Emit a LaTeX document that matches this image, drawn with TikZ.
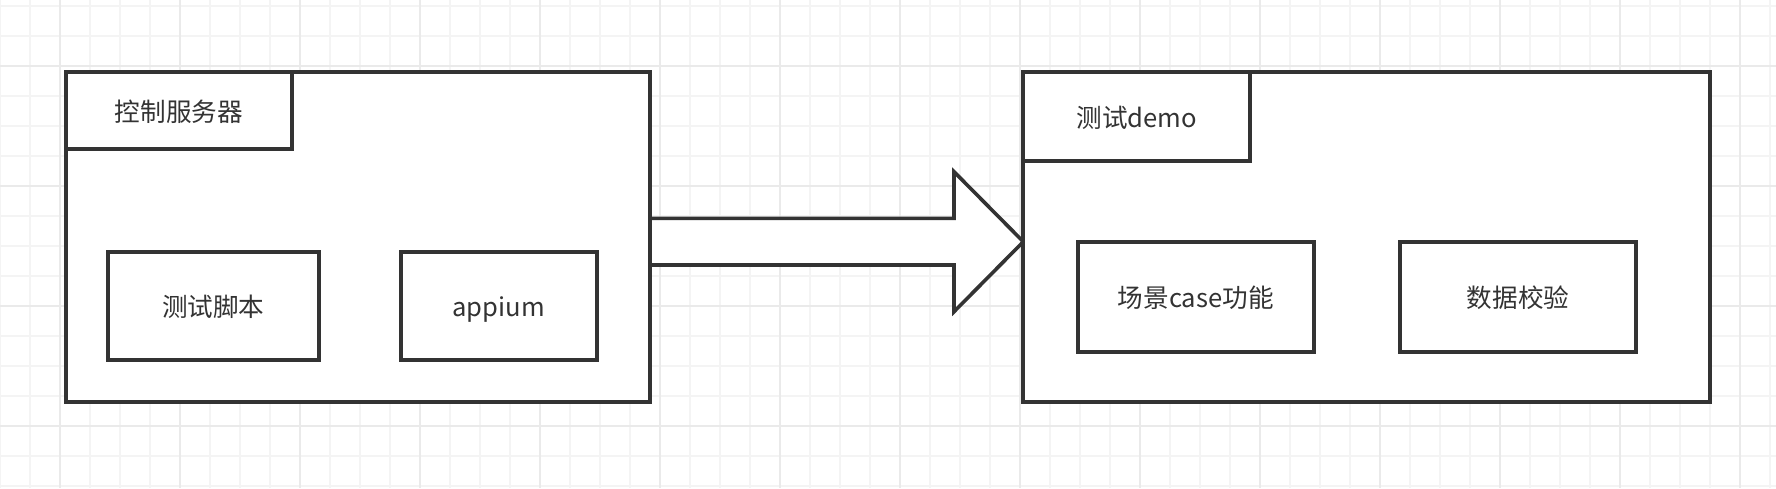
\documentclass[tikz,border=0pt]{standalone}
\usepackage{fontspec}
\setmainfont{Noto Sans CJK SC}
\begin{document}
\begin{tikzpicture}[x=1pt,y=-1pt,
  every node/.style={inner sep=0pt,outer sep=0pt},
  box/.style={draw=ink,line width=4pt,fill=white,rectangle,text=ink,
    font=\fontsize{25.6}{30}\selectfont,text height=24pt,text depth=3pt},
  minorgrid/.style={draw=gridminor,line width=2pt},
  majorgrid/.style={draw=gridmajor,line width=2pt},
  blockarrow/.style={draw=ink,line width=3.6pt,fill=white,line join=miter}]
\definecolor{ink}{HTML}{333333}
\definecolor{gridminor}{HTML}{F4F4F4}
\definecolor{gridmajor}{HTML}{EAEAEA}
\useasboundingbox[fill=white] (0,0) rectangle (1776,488);
% grid
\foreach \k in {0,...,59} {
  \draw[minorgrid] ({-0.5+30*\k},0) -- ({-0.5+30*\k},488);
}
\foreach \k in {0,...,16} {
  \draw[minorgrid] (0,{6+30*\k}) -- (1776,{6+30*\k});
}
\foreach \k in {0,...,14} {
  \draw[majorgrid] ({59.5+120*\k},0) -- ({59.5+120*\k},488);
}
\foreach \k in {0,...,3} {
  \draw[majorgrid] (0,{66+120*\k}) -- (1776,{66+120*\k});
}
% block arrow
\coordinate (tip) at (1023.3,241.7);
\draw[blockarrow] (650,218.3) -- (954,218.3) -- (954,171.7) -- (tip)
  -- (954,311.7) -- (954,265) -- (650,265) -- cycle;
% left group
\node[box,minimum width=584.3pt,minimum height=329.8pt] (lout) at (357.85,236.6) {};
\node[box,minimum width=226.3pt,minimum height=77.6pt] (ltab) at (178.85,110.5) {控制服务器};
\node[box,minimum width=211.5pt,minimum height=108.3pt] (script) at (213.25,305.85) {测试脚本};
\node[box,minimum width=195.8pt,minimum height=108.3pt] (appium) at (498.7,305.85) {appium};
% right group
\node[box,minimum width=686.7pt,minimum height=329.7pt] (rout) at (1366.65,236.85) {};
\node[box,minimum width=226.7pt,minimum height=89pt] (rtab) at (1136.65,116.5) {测试demo};
\node[box,minimum width=236.3pt,minimum height=110pt] (scene) at (1195.85,296.7) {场景case功能};
\node[box,minimum width=236pt,minimum height=110pt] (check) at (1518,296.7) {数据校验};
\end{tikzpicture}
\end{document}
